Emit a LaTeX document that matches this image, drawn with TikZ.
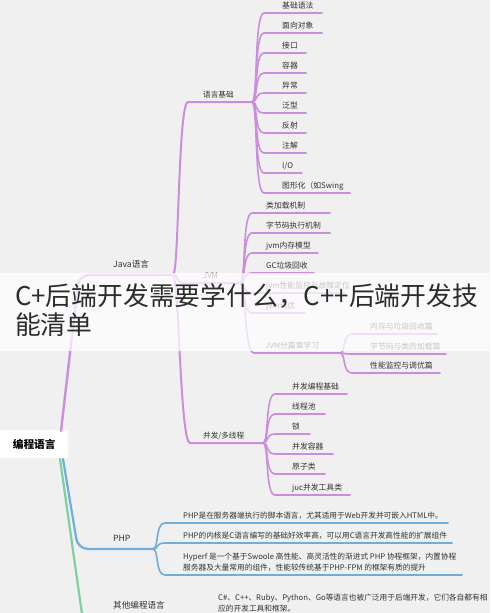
\documentclass[tikz,border=0pt]{standalone}
\usepackage{fontspec}
\setmainfont{Noto Sans CJK SC}
\definecolor{bgc}{HTML}{F0F0F0}
\definecolor{pur}{HTML}{CB8EDD}
\definecolor{blu}{HTML}{6FAEDC}
\definecolor{grn}{HTML}{7DD19C}
\definecolor{txt}{HTML}{333333}
\definecolor{ttl}{HTML}{2C2C2C}
\tikzset{
  trunkp/.style={draw=pur, line width=2.4pt, rounded corners=10pt, line cap=round},
  trunkb/.style={draw=blu, line width=2.2pt, rounded corners=10pt, line cap=round},
  trunkg/.style={draw=grn, line width=2.2pt, line cap=round},
  l2lbl/.style={font=\fontsize{8.6}{10}\selectfont, text=txt, inner sep=0pt, anchor=base west},
  java2 line/.style={draw=pur, line width=2pt, line cap=round},
  java2 lbl/.style={font=\fontsize{7.6}{9}\selectfont},
  java3 line/.style={draw=pur, line width=1.6pt, line cap=round},
  java3 lbl/.style={font=\fontsize{7.8}{9}\selectfont},
  php line/.style={draw=blu, line width=1.6pt, line cap=round},
  php lbl/.style={font=\fontsize{7.7}{11}\selectfont},
  banner/.style={font=\fontsize{25.8}{30}\selectfont, text=ttl, inner sep=0pt, anchor=base west},
}
% #1 style prefix, #2 fan, #3 name, #4 label x, #5 line y, #6 line start x, #7 line end x, #8 text
\newcommand\leaf[8]{%
  \coordinate (#3-s) at (#6,#5);
  \coordinate (#3-e) at (#7,#5);
  \draw[#1 line] (#2) .. controls +(6,0) and +(-10,0) .. (#3-s) -- (#3-e);
  \node[#1 lbl, text=txt, inner sep=0pt, anchor=base west, yshift=4.6pt] (#3) at (#4,#5) {#8};
}
\begin{document}
\begin{tikzpicture}[x=1pt,y=-1pt]
\fill[bgc] (0,0) rectangle (490,613);
\useasboundingbox (0,0) rectangle (490,613);
\clip (0,0) rectangle (490,613);

% root
\node[fill=white, rounded corners=2pt, minimum width=71pt, minimum height=28pt, anchor=north west, inner sep=0pt,
      font=\bfseries\fontsize{10.7}{12}\selectfont, text=black] (root) at (-3,430) {\hspace*{3pt}编程语言};
\coordinate (rj) at (61,431);
\coordinate (rb) at (63,459);
\coordinate (rg) at (60,459);

% ---------- Java ----------
\coordinate (java) at (173,275);
\draw[trunkp] (rj) -- (79,275) -- (java);
\node[l2lbl] (javal) at (113,267) {Java语言};

\leaf{java2}{java}{yyjc}{203}{102}{188}{252}{语言基础}
\leaf{java2}{java}{jvm}{203}{283}{185}{240}{JVM}
\leaf{java2}{java}{bf}{203}{443}{190}{263}{并发/多线程}

% 语言基础 children
\leaf{java3}{yyjc-e}{a1}{282}{13}{264}{322}{基础语法}
\leaf{java3}{yyjc-e}{a2}{282}{33}{264}{322}{面向对象}
\leaf{java3}{yyjc-e}{a3}{282}{53}{264}{306}{接口}
\leaf{java3}{yyjc-e}{a4}{282}{73}{264}{306}{容器}
\leaf{java3}{yyjc-e}{a5}{282}{93}{264}{306}{异常}
\leaf{java3}{yyjc-e}{a6}{282}{113}{264}{306}{泛型}
\leaf{java3}{yyjc-e}{a7}{282}{133}{264}{306}{反射}
\leaf{java3}{yyjc-e}{a8}{282}{153}{264}{306}{注解}
\leaf{java3}{yyjc-e}{a9}{282}{173}{264}{302}{I/O}
\leaf{java3}{yyjc-e}{a10}{282}{193}{264}{350}{图形化（如Swing}

% JVM children
\leaf{java3}{jvm-e}{b1}{266}{213}{252}{330}{类加载机制}
\leaf{java3}{jvm-e}{b2}{266}{233}{252}{330}{字节码执行机制}
\leaf{java3}{jvm-e}{b3}{266}{253}{252}{318}{jvm内存模型}
\leaf{java3}{jvm-e}{b4}{266}{273}{252}{314}{GC垃圾回收}
\leaf{java3}{jvm-e}{b5}{266}{293}{252}{345}{jvm性能监控与故障定位}
\leaf{java3}{jvm-e}{b6}{266}{313}{252}{305}{jvm调优}
\leaf{java3}{jvm-e}{b7}{265}{353}{254}{340}{JVM分篇章学习}

% JVM分篇章学习 children
\leaf{java3}{b7-e}{c1}{370}{334}{352}{437}{内存与垃圾回收篇}
\leaf{java3}{b7-e}{c2}{370}{354}{352}{446}{字节码与类的加载篇}
\leaf{java3}{b7-e}{c3}{370}{373}{352}{440}{性能监控与调优篇}

% 并发/多线程 children
\leaf{java3}{bf-e}{d1}{292}{394}{275}{347}{并发编程基础}
\leaf{java3}{bf-e}{d2}{292}{414}{275}{325}{线程池}
\leaf{java3}{bf-e}{d3}{292}{434}{275}{310}{锁}
\leaf{java3}{bf-e}{d4}{292}{454}{275}{333}{并发容器}
\leaf{java3}{bf-e}{d5}{292}{474}{275}{325}{原子类}
\leaf{java3}{bf-e}{d6}{292}{495}{275}{350}{juc并发工具类}

% ---------- PHP ----------
\coordinate (php-e) at (153,549);
\draw[trunkb] (rb) -- (78,549) -- (php-e);
\node[l2lbl] (php) at (113,541) {PHP};
\leaf{php}{php-e}{p1}{183}{523}{165}{448}{PHP是在服务器端执行的脚本语言，尤其适用于Web开发并可嵌入HTML中。}
\leaf{php}{php-e}{p2}{183}{543}{165}{452}{PHP的内核是C语言编写的基础好效率高，可以用C语言开发高性能的扩展组件}
\coordinate (p3-s) at (165,575);
\coordinate (p3-e) at (462,575);
\draw[php line] (php-e) .. controls +(6,0) and +(-10,0) .. (p3-s) -- (p3-e);
\node[php lbl, text=txt, inner sep=0pt, anchor=base west, align=left] (p3) at (183,570)
  {Hyperf 是一个基于Swoole 高性能、高灵活性的渐进式 PHP 协程框架，内置协程\\服务器及大量常用的组件，性能较传统基于PHP-FPM 的框架有质的提升};

% ---------- 其他编程语言 ----------
\coordinate (oth) at (84,628);
\draw[trunkg] (rg) -- (oth);
\node[l2lbl] (other) at (113,608) {其他编程语言};
\node[php lbl, text=txt, inner sep=0pt, anchor=base west, align=left] (othtxt) at (218,611)
  {C\#、C++、Ruby、Python、Go等语言也被广泛用于后端开发，它们各自都有相\\应的开发工具和框架。};

% ---------- banner ----------
\fill[white, opacity=0.72] (0,273) rectangle (490,351);
\node[banner] (t1) at (15,305) {C+后端开发需要学什么，C++后端开发技};
\node[banner] (t2) at (15,334) {能清单};
\end{tikzpicture}
\end{document}
